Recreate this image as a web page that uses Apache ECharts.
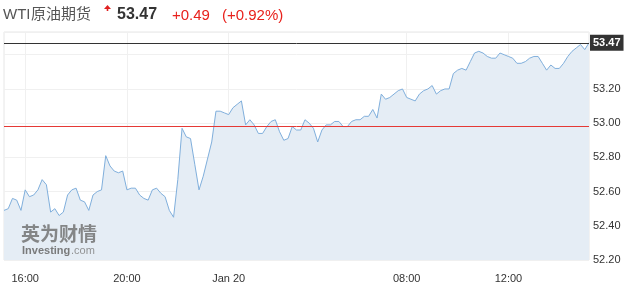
<!DOCTYPE html>
<html><head><meta charset="utf-8">
<script src="https://cdn.jsdelivr.net/npm/echarts@6/dist/echarts.min.js"></script>
<style>html,body{margin:0;padding:0;background:#fff}#c{width:634px;height:292px}</style>
</head><body><div id="c"></div>
<script>
// ---- data ----
const headerLatin = 'WTI';
const headerCjk = '原油期货';
const lastPrice = '53.47';
const change = '+0.49';
const changePct = '(+0.92%)';
const lastValue = 53.47;
const prevClose = 52.98;

// 10-minute bars, 15:10 -> 15:10 next day, session break 06:00-07:00
const times = [];
(function(){
  let h = 15, m = 10;
  for (let i = 0; i < 139; i++) {
    times.push(String(h).padStart(2,'0') + ':' + String(m).padStart(2,'0'));
    m += 10; if (m === 60) { m = 0; h = (h + 1) % 24; }
    if (h === 6) h = 7;
  }
})();

const prices = [
  52.49,52.50,52.56,52.55,52.49,52.61,52.57,52.58,52.61,52.67,
  52.64,52.48,52.50,52.46,52.48,52.58,52.61,52.62,52.55,52.54,
  52.49,52.58,52.60,52.61,52.81,52.75,52.72,52.71,52.72,52.61,
  52.62,52.62,52.58,52.56,52.55,52.61,52.62,52.59,52.57,52.49,
  52.45,52.67,52.97,52.92,52.91,52.76,52.61,52.69,52.79,52.89,
  53.07,53.07,53.06,53.05,53.09,53.11,53.13,52.99,53.02,52.99,
  52.94,52.94,52.98,53.01,53.02,52.95,52.90,52.91,52.98,52.96,
  52.96,53.02,53.00,52.97,52.89,52.96,52.99,52.99,53.01,53.01,
  52.98,52.98,53.01,53.02,53.02,53.04,53.04,53.08,53.03,53.17,
  53.14,53.15,53.17,53.19,53.20,53.15,53.14,53.13,53.17,53.19,
  53.20,53.22,53.17,53.19,53.20,53.20,53.29,53.31,53.32,53.31,
  53.36,53.41,53.42,53.41,53.39,53.38,53.38,53.41,53.40,53.39,
  53.38,53.35,53.35,53.36,53.38,53.39,53.39,53.35,53.31,53.34,
  53.32,53.32,53.35,53.39,53.42,53.44,53.46,53.43,53.47
];

const tickTimes = ['16:00','20:00','00:00','08:00','12:00'];
const tickTexts = ['16:00','20:00','Jan 20','08:00','12:00'];
const yTickLabels = ['52.20','52.40','52.60','52.80','53.00','53.20'];

// ---- chart ----
const chart = echarts.init(document.getElementById('c'), null, {renderer:'canvas'});
const isTick = (idx) => tickTimes.indexOf(times[idx]) >= 0;
const font = 'Arial, "Liberation Sans", sans-serif';

chart.setOption({
  animation: false,
  backgroundColor: '#fff',
  grid: {left: 4, right: 45, top: 32, bottom: 32, show: true, borderColor: '#e6e6e6', borderWidth: 1},
  xAxis: {
    type: 'category', data: times, boundaryGap: false,
    axisLine: {show: false}, axisTick: {show: false},
    axisLabel: {
      interval: (i) => isTick(i),
      formatter: (v) => tickTexts[tickTimes.indexOf(v)] || '',
      color: '#333', fontSize: 11, fontFamily: font, margin: 13
    },
    splitLine: {show: true, interval: (i) => isTick(i), lineStyle: {color: '#f0f0f0', width: 1}}
  },
  yAxis: {
    type: 'value', position: 'right', min: 52.2, max: 53.533, interval: 0.2,
    axisLine: {show: false}, axisTick: {show: false},
    axisLabel: {
      color: '#333', fontSize: 11, fontFamily: font, margin: 4,
      formatter: (v) => { const s = v.toFixed(2); return yTickLabels.indexOf(s) >= 0 ? s : ''; }
    },
    splitLine: {show: true, lineStyle: {color: '#f0f0f0', width: 1}}
  },
  series: [{
    type: 'line', data: prices, symbol: 'none', smooth: false,
    lineStyle: {color: '#80afdc', width: 1},
    areaStyle: {color: '#e5edf5', opacity: 1},
    markLine: {
      silent: true, symbol: ['none','none'],
      data: [
        {yAxis: prevClose, lineStyle: {color: '#e53935', width: 1, type: 'solid'}, label: {show: false}},
        {yAxis: lastValue, lineStyle: {color: '#333', width: 1, type: 'solid'},
         label: {show: true, position: 'end', distance: 1, formatter: lastPrice,
           color: '#fff', backgroundColor: '#333', fontWeight: 'bold', fontSize: 11,
           fontFamily: font, padding: [3, 3, 2, 3]}}
      ]
    }
  }],
  graphic: [
    {type: 'text', left: 3, top: 7, style: {text: headerLatin, fill: '#555', font: '15px Arial, "Liberation Sans", sans-serif'}},
    {type: 'text', left: 31, top: 6, style: {text: headerCjk, fill: '#555', font: '15px "Noto Sans CJK SC", sans-serif', letterSpacing: 1.5}},
    {type: 'polygon', shape: {points: [[104,9],[107.5,5],[111,9]]}, style: {fill: '#e02020'}},
    {type: 'rect', shape: {x: 106.7, y: 8, width: 1.6, height: 3}, style: {fill: '#e02020'}},
    {type: 'text', left: 117, top: 7, style: {text: lastPrice, fill: '#333', font: 'bold 16px Arial, "Liberation Sans", sans-serif'}},
    {type: 'text', left: 172, top: 8, style: {text: change, fill: '#e8211c', font: '15px Arial, "Liberation Sans", sans-serif'}},
    {type: 'text', left: 222, top: 8, style: {text: changePct, fill: '#e8211c', font: '15px Arial, "Liberation Sans", sans-serif'}},
    {type: 'text', left: 21, top: 224, z: 100, style: {text: '英为财情', fill: 'rgba(115,115,115,0.85)', font: 'bold 19px "Noto Sans CJK SC", sans-serif'}},
    {type: 'text', left: 22, top: 245, z: 100, style: {text: 'Investing', fill: 'rgba(110,110,110,0.9)', font: 'bold 11px Arial, "Liberation Sans", sans-serif'}},
    {type: 'text', left: 71, top: 245, z: 100, style: {text: '.com', fill: 'rgba(130,130,130,0.85)', font: '11px Arial, "Liberation Sans", sans-serif'}}
  ]
});
</script></body></html>
